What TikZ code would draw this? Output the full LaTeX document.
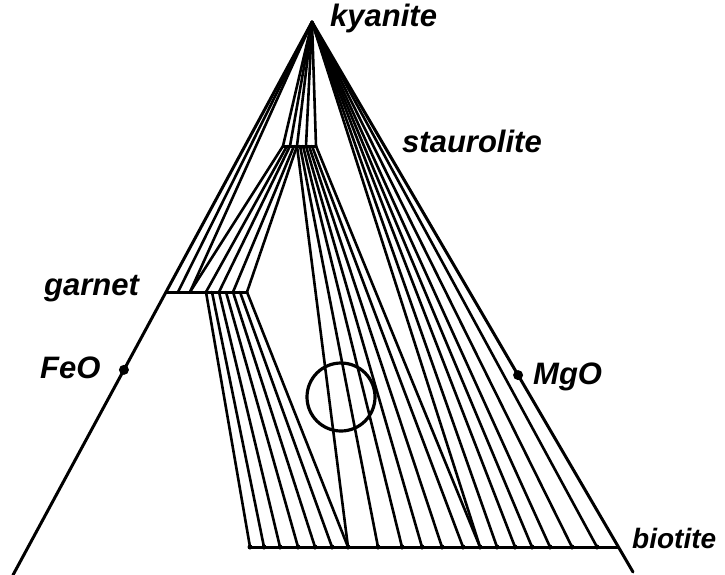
\documentclass[tikz,border=0pt]{standalone}
\usepackage{fontspec}
\setmainfont{Liberation Sans}
\usetikzlibrary{calc}

\tikzset{
  tie/.style={line width=2.6pt},
  frame/.style={line width=3pt},
  phase/.style={font=\fontsize{31}{34}\selectfont\bfseries\itshape, inner sep=0pt, anchor=base west},
  oxide/.style={circle, fill, inner sep=0pt, minimum size=10pt},
  tickdot/.style={circle, fill, inner sep=0pt, minimum size=5pt}
}

\begin{document}
\begin{tikzpicture}[x=1pt, y=-1pt, line cap=round, line join=round]
\useasboundingbox (0,0) rectangle (725,575);

% corners of the triangle
\coordinate (Ky) at (312,22);
\coordinate (FeEnd) at (13,575);
\coordinate (MgEnd) at (633,572);

% mineral compositions
\foreach \i/\x in {1/167,2/178,3/190,4/200,5/206,6/212,7/219,8/226,9/233,10/240,11/247}
  \coordinate (G\i) at (\x,292);
\foreach \i/\x in {1/283,2/287,3/290,4/294,5/297,6/300,7/303,8/306,9/309,10/312,11/316}
  \coordinate (S\i) at (\x,146);
\foreach \i/\x in {1/250,2/264,3/280,4/298,5/315,6/332,7/348,8/378,9/402,10/422,
                   11/442,12/463,13/480,14/497,15/515,16/532,17/550,18/572,19/597,20/618}
  \coordinate (B\i) at (\x,547);

\draw[frame] (FeEnd) -- (Ky) -- (MgEnd);
\draw[frame] (G1) -- (G11);
\draw[frame] (S1) -- (S11);
\draw[frame] (B1) -- (B20);

% tie lines
\foreach \a/\b in {Ky/G2,Ky/G3,Ky/S1,Ky/S3,Ky/S5,Ky/S8,Ky/S11,
                   G3/S1,G5/S2,G7/S3,G9/S4,G11/S5,
                   G5/B1,G6/B2,G7/B3,G8/B4,G9/B5,G10/B6,G11/B7,
                   S5/B7,S6/B8,S7/B9,S8/B10,S9/B11,S10/B12,S11/B13,
                   Ky/B13,Ky/B14,Ky/B15,Ky/B16,Ky/B17,Ky/B18,Ky/B19}
  \draw[tie] (\a) -- (\b);

\foreach \i in {1,...,19}
  \node[tickdot] (b\i) at (B\i) {};

\node[draw, circle, line width=3.2pt, minimum size=68pt, inner sep=0pt] (Circ) at (341,397) {};

\node[oxide] (FeOdot) at ($(Ky)!0.629!(FeEnd)$) {};
\node[oxide] (MgOdot) at ($(Ky)!0.642!(MgEnd)$) {};

\node[phase] (Kyanite) at (330,27) {kyanite};
\node[phase] (Staurolite) at (402,153) {staurolite};
\node[phase] (Garnet) at (44,295) {garnet};
\node[phase] (FeO) at (40,378) {FeO};
\node[phase] (MgO) at (533,384) {MgO};
\node[phase, font=\fontsize{28}{30}\selectfont\bfseries\itshape] (Biotite) at (632,548) {biotite};
\end{tikzpicture}
\end{document}
